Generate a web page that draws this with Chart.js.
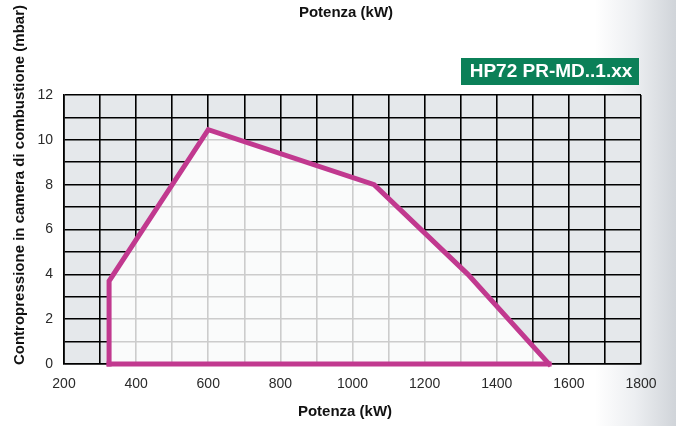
<!DOCTYPE html>
<html>
<head>
<meta charset="utf-8">
<script src="https://cdn.jsdelivr.net/npm/chart.js@4"></script>
<style>
  html, body { margin: 0; padding: 0; }
  body {
    width: 676px; height: 426px; overflow: hidden;
    background: linear-gradient(to right, #ffffff 0%, #ffffff 88%, #eceef1 94%, #d0d4d9 100%);
  }
  #wrap { position: relative; width: 676px; height: 426px; }
</style>
</head>
<body>
<div id="wrap"><canvas id="chart" width="676" height="426"></canvas></div>
<script>
// Campo di lavoro (potenza kW / contropressione mbar), contorno superiore
const potenza = [325, 325, 600, 1060, 1320, 1545];
const contropressione = [0, 3.7, 10.45, 8, 4, 0];

const xTickLabels = [200, 400, 600, 800, 1000, 1200, 1400, 1600, 1800];
const yTickLabels = [0, 2, 4, 6, 8, 10, 12];

const modelLabel = 'HP72 PR-MD..1.xx';
const xTitle = 'Potenza (kW)';
const yTitle = 'Contropressione in camera di combustione (mbar)';

const FONT = '"Liberation Sans", Arial, Helvetica, sans-serif';
const LINE_COLOR = '#c1398f';

const topEdge = potenza.map((x, i) => ({ x: x, y: contropressione[i] }));
// lato inferiore: dal primo all'ultimo punto del contorno
const bottomEdge = [topEdge[0], topEdge[topEdge.length - 1]];

// sfondo grigio dell'area del grafico + testi e riquadro verde
const decorPlugin = {
    id: 'decor',
    beforeDraw(chart) {
        const { ctx, chartArea: a } = chart;
        ctx.save();
        ctx.fillStyle = '#e5e8eb';
        ctx.fillRect(a.left, a.top, a.right - a.left, a.bottom - a.top);
        ctx.restore();
    },
    afterDraw(chart) {
        const { ctx } = chart;
        ctx.save();
        ctx.fillStyle = '#111';
        ctx.font = 'bold 15px ' + FONT;
        ctx.textAlign = 'center';
        ctx.textBaseline = 'middle';
        ctx.fillText(xTitle, 346, 13);
        ctx.fillText(xTitle, 345, 412);

        ctx.translate(20, 185);
        ctx.rotate(-Math.PI / 2);
        ctx.fillText(yTitle, 0, 0);
        ctx.restore();

        // riquadro modello
        ctx.save();
        ctx.fillStyle = '#0b8058';
        ctx.fillRect(461, 58, 178, 27);
        ctx.fillStyle = '#ffffff';
        ctx.font = 'bold 19px ' + FONT;
        ctx.textAlign = 'center';
        ctx.textBaseline = 'middle';
        ctx.fillText(modelLabel, 551, 72);
        ctx.restore();
    }
};

new Chart(document.getElementById('chart'), {
    type: 'line',
    data: {
        datasets: [{
            data: bottomEdge,
            borderColor: LINE_COLOR,
            borderWidth: 5,
            borderCapStyle: 'square',
            fill: false,
            pointRadius: 0,
            tension: 0,
            clip: 6
        }, {
            data: topEdge,
            borderColor: LINE_COLOR,
            borderWidth: 5,
            borderJoinStyle: 'miter',
            borderCapStyle: 'square',
            backgroundColor: 'rgba(255,255,255,0.8)',
            fill: 'origin',
            pointRadius: 0,
            tension: 0,
            clip: 6
        }]
    },
    options: {
        responsive: false,
        animation: false,
        events: [],
        layout: { padding: { left: 0, right: 35, top: 95, bottom: 0 } },
        plugins: { legend: { display: false }, tooltip: { enabled: false } },
        scales: {
            x: {
                type: 'linear',
                min: 200,
                max: 1800,
                afterFit: s => { s.height = 62; },
                ticks: {
                    stepSize: 100,
                    autoSkip: false,
                    maxRotation: 0,
                    padding: 12,
                    color: '#2a2a2a',
                    font: { family: FONT, size: 14 },
                    callback: v => xTickLabels.includes(v) ? String(v) : ''
                },
                grid: { color: '#000', lineWidth: 1.6, drawTicks: false },
                border: { color: '#000', width: 1.6 }
            },
            y: {
                type: 'linear',
                min: 0,
                max: 12,
                afterFit: s => { s.width = 64; },
                ticks: {
                    stepSize: 1,
                    autoSkip: false,
                    padding: 11,
                    color: '#2a2a2a',
                    font: { family: FONT, size: 14 },
                    callback: v => yTickLabels.includes(v) ? String(v) : ''
                },
                grid: { color: '#000', lineWidth: 1.6, drawTicks: false },
                border: { color: '#000', width: 1.6 }
            }
        }
    },
    plugins: [decorPlugin]
});
</script>
</body>
</html>
